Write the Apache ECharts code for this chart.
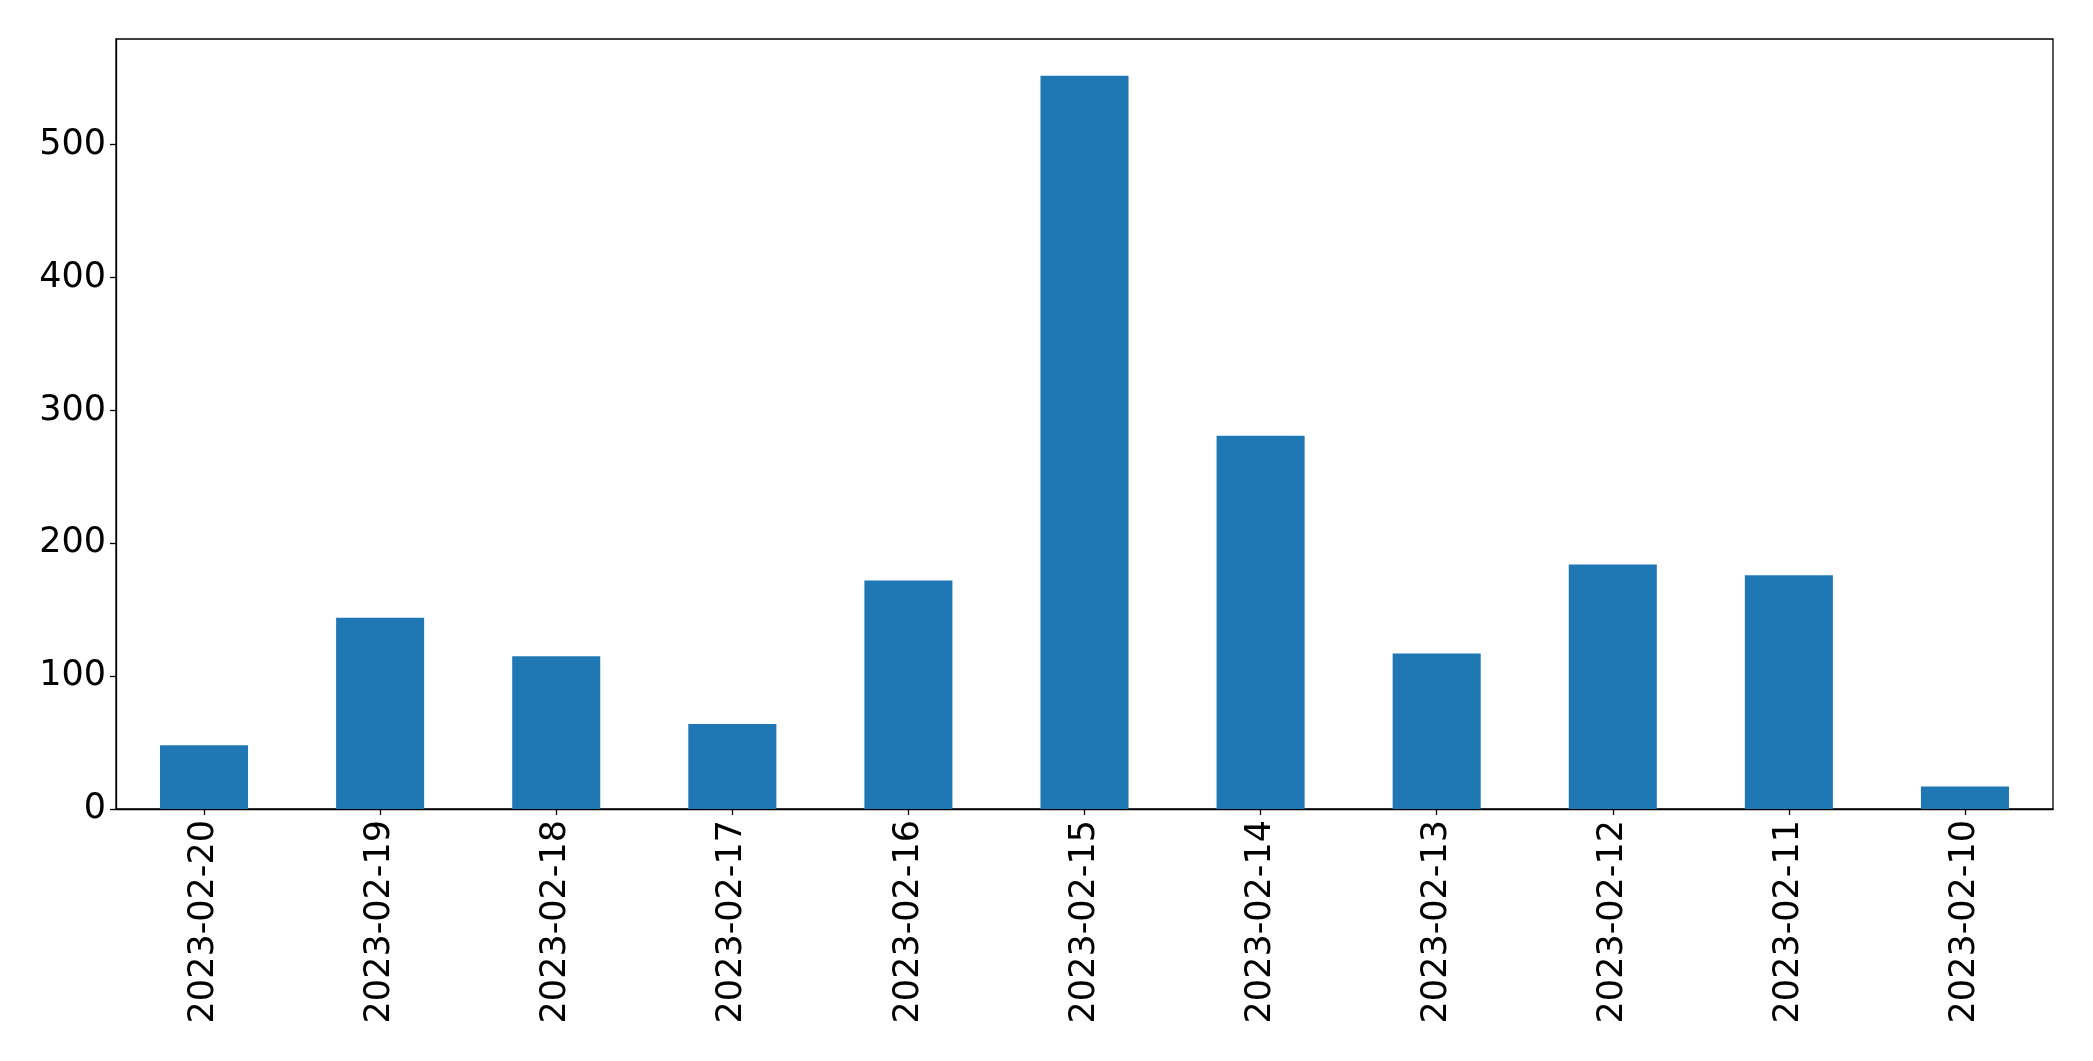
<!DOCTYPE html>
<html>
<head>
<meta charset="utf-8">
<script src="https://cdn.jsdelivr.net/npm/echarts@6/dist/echarts.min.js"></script>
<style>
html,body{margin:0;padding:0;background:#fff;}
#chart{width:2093px;height:1061px;}
</style>
</head>
<body>
<div id="chart"></div>
<script>
const categories = ['2023-02-20','2023-02-19','2023-02-18','2023-02-17','2023-02-16','2023-02-15','2023-02-14','2023-02-13','2023-02-12','2023-02-11','2023-02-10'];
const counts = [48, 144, 115, 64, 172, 552, 281, 117, 184, 176, 17];
const yTicks = [0, 100, 200, 300, 400, 500];

const chart = echarts.init(document.getElementById('chart'), null, {renderer: 'canvas'});
const yMax = Math.max(...counts) * 1.05;
chart.setOption({
  animation: false,
  backgroundColor: '#ffffff',
  grid: {
    left: 116, right: 40, top: 39, bottom: 252,
    show: true, borderColor: '#000', borderWidth: 1.3, backgroundColor: 'transparent'
  },
  xAxis: {
    type: 'category',
    data: categories,
    boundaryGap: true,
    axisLine: {show: true, lineStyle: {color: '#000', width: 1.3}},
    axisTick: {show: true, alignWithLabel: true, length: 6, lineStyle: {color: '#000', width: 1.3}},
    axisLabel: {
      rotate: 90, margin: 11, color: '#000', fontSize: 35,
      fontFamily: 'DejaVu Sans', interval: 0
    },
    splitLine: {show: false}
  },
  yAxis: {
    type: 'value',
    min: 0, max: yMax, interval: 100,
    axisLine: {show: true, lineStyle: {color: '#000', width: 1.3}},
    axisTick: {show: true, length: 6, lineStyle: {color: '#000', width: 1.3}, customValues: yTicks},
    axisLabel: {color: '#000', fontSize: 35, fontFamily: 'DejaVu Sans', margin: 10, customValues: yTicks},
    splitLine: {show: false}
  },
  series: [{
    type: 'bar',
    data: counts,
    barWidth: '50%',
    itemStyle: {color: '#1f77b4'}
  }]
});
</script>
</body>
</html>
